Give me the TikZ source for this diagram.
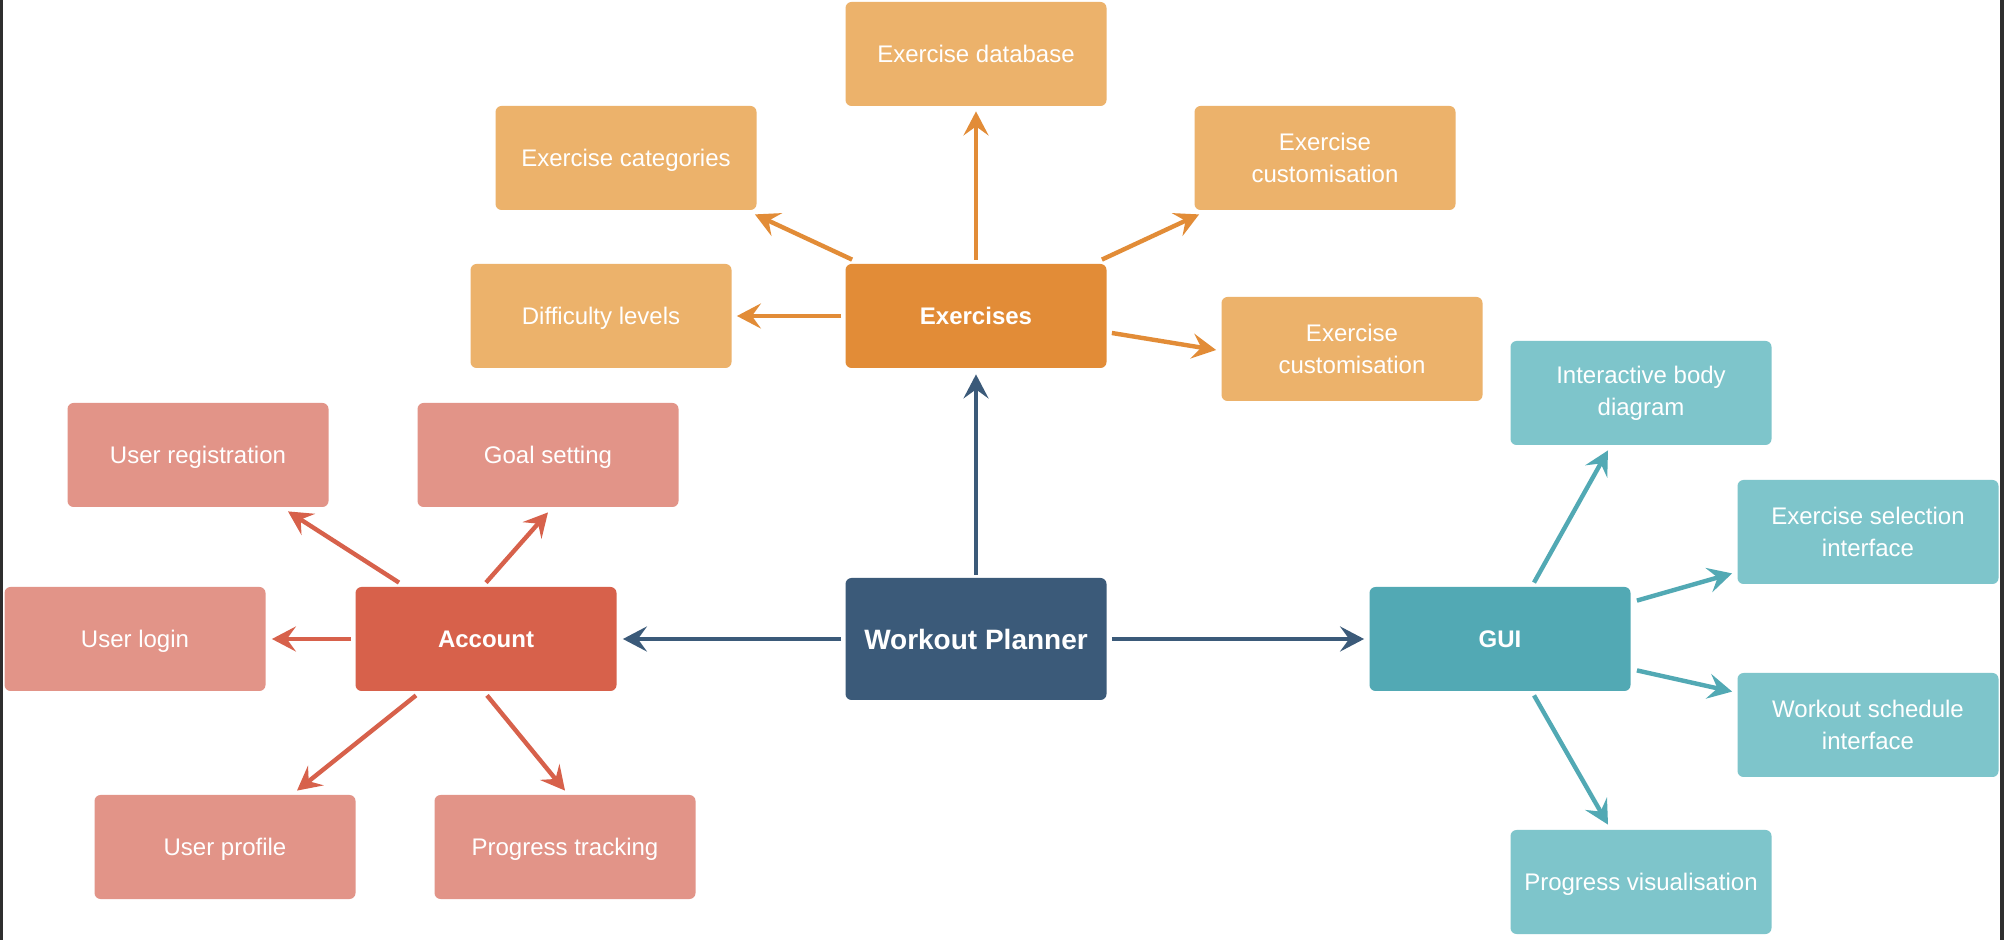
\documentclass[tikz,border=0pt]{standalone}
\usepackage{fontspec}
\setmainfont{Liberation Sans}
\usetikzlibrary{calc,arrows.meta}
\definecolor{exsub}{HTML}{ECB26B}
\definecolor{exmain}{HTML}{E28C37}
\definecolor{acsub}{HTML}{E29488}
\definecolor{acmain}{HTML}{D7614B}
\definecolor{wpmain}{HTML}{3B5A79}
\definecolor{guimain}{HTML}{52A9B4}
\definecolor{guisub}{HTML}{7EC5CB}
\definecolor{bordc}{HTML}{2E2E2E}
\begin{document}
\begin{tikzpicture}[x=0.5pt,y=-0.5pt,
  box/.style={rectangle,rounded corners=3pt,minimum width=130.5pt,minimum height=52pt,
    inner sep=0pt,text=white,align=center,font=\fontsize{12}{16}\selectfont},
  one/.style={text depth=0pt},
  exs/.style={box,fill=exsub},
  exm/.style={box,one,fill=exmain,font=\fontsize{12}{16}\selectfont\bfseries},
  acs/.style={box,fill=acsub},
  acm/.style={box,one,fill=acmain,font=\fontsize{12}{16}\selectfont\bfseries},
  gus/.style={box,fill=guisub},
  gum/.style={box,one,fill=guimain,font=\fontsize{12}{16}\selectfont\bfseries},
  wpm/.style={box,one,fill=wpmain,minimum height=61pt,font=\fontsize{14}{17}\selectfont\bfseries},
  arr/.style={line width=2.2pt,-{Stealth[length=12pt,width=12.5pt,inset=4.5pt]}},
  exarr/.style={arr,draw=exmain},
  acarr/.style={arr,draw=acmain},
  wparr/.style={arr,draw=wpmain},
  guarr/.style={arr,draw=guimain}]
\useasboundingbox (0,0) rectangle (2004,940);
\fill[white] (0,0) rectangle (2004,940);
\fill[bordc] (0,0) rectangle (3,940);
\fill[bordc] (2000,0) rectangle (2004,940);

% Exercises group
\node[exs,one] (db)   at (976,54)   {Exercise database};
\node[exs,one] (cat)  at (626,158)  {Exercise categories};
\node[exs] (cust) at (1325,158) {Exercise\\customisation};
\node[exs,one] (diff) at (601,316)  {Difficulty levels};
\node[exm] (ex)   at (976,316)  {Exercises};
\node[exs] (custb) at (1352,349) {Exercise\\customisation};

% Centre
\node[wpm] (wp) at (976,639) {Workout Planner};

% Account group
\node[acs,one] (ureg) at (198,455) {User registration};
\node[acs,one] (goal) at (548,455) {Goal setting};
\node[acs,one] (ulog) at (135,639) {User login};
\node[acm] (acc)  at (486,639) {Account};
\node[acs,one] (uprof) at (225,847) {User profile};
\node[acs,one] (prog) at (565,847) {Progress tracking};

% GUI group
\node[gus] (ibd)  at (1641,393) {Interactive body\\diagram};
\node[gum] (gui)  at (1500,639) {GUI};
\node[gus] (esel) at (1868,532) {Exercise selection\\interface};
\node[gus] (wsch) at (1868,725) {Workout schedule\\interface};
\node[gus,one] (pvis) at (1641,882) {Progress visualisation};

% Exercises arrows
\draw[exarr] ($(ex.north)+(0,-4)$) -- ($(db.south)+(0,5)$);
\draw[exarr] ($(ex.north west)+(7,-4)$) -- ($(cat.south east)+(-2,4)$);
\draw[exarr] ($(ex.north east)+(-5,-4)$) -- ($(cust.south west)+(5,4)$);
\draw[exarr] ($(ex.west)+(-4,0)$) -- ($(diff.east)+(5,0)$);
\draw[exarr] ($(ex.east)+(5,17)$) -- ($(custb.west)+(-5,1)$);

% Workout planner arrows
\draw[wparr] ($(wp.north)+(0,-3)$) -- ($(ex.south)+(0,6)$);
\draw[wparr] ($(wp.west)+(-4,0)$) -- ($(acc.east)+(6,0)$);
\draw[wparr] ($(wp.east)+(5,0)$) -- ($(gui.west)+(-5,0)$);

% Account arrows
\draw[acarr] ($(acc.north)+(-87,-4)$) -- ($(ureg.south)+(90,4)$);
\draw[acarr] ($(acc.north)+(0,-4)$) -- ($(goal.south)+(0,5)$);
\draw[acarr] ($(acc.west)+(-4,0)$) -- ($(ulog.east)+(6,0)$);
\draw[acarr] ($(acc.south)+(-70,4)$) -- ($(uprof.north)+(72,-4)$);
\draw[acarr] ($(acc.south)+(1,4)$) -- ($(prog.north)+(0,-4)$);

% GUI arrows
\draw[guarr] ($(gui.north)+(34,-4)$) -- ($(ibd.south)+(-33,5)$);
\draw[guarr] ($(gui.north east)+(6,14)$) -- ($(esel.south west)+(-5,-11)$);
\draw[guarr] ($(gui.south east)+(6,-21)$) -- ($(wsch.north west)+(-5,19)$);
\draw[guarr] ($(gui.south)+(34,4)$) -- ($(pvis.north)+(-33,-5)$);
\end{tikzpicture}
\end{document}
